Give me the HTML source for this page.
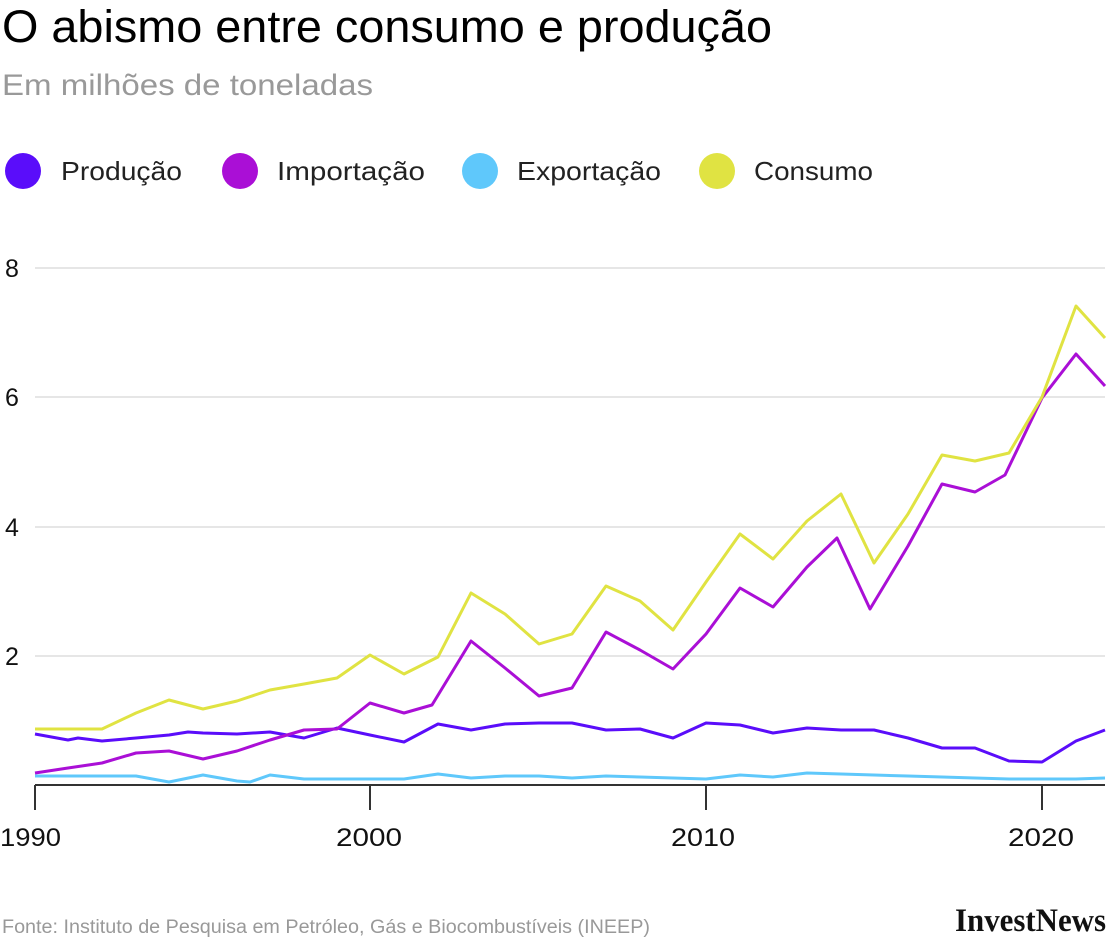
<!DOCTYPE html>
<html><head><meta charset="utf-8"><style>
html,body{margin:0;padding:0;background:#fff;}
body{width:1110px;height:938px;overflow:hidden;position:relative;font-family:"Liberation Sans",sans-serif;}
</style></head><body>
<svg width="1110" height="938" xmlns="http://www.w3.org/2000/svg" style="position:absolute;left:0;top:0">
<text x="2" y="42" font-family="Liberation Sans, sans-serif" font-size="45" fill="#000" textLength="770" lengthAdjust="spacingAndGlyphs">O abismo entre consumo e produção</text>
<text x="2" y="95" font-family="Liberation Sans, sans-serif" font-size="30" fill="#999" textLength="371" lengthAdjust="spacingAndGlyphs">Em milhões de toneladas</text>
<g font-family="Liberation Sans, sans-serif" font-size="26" fill="#222">
<circle cx="23" cy="171" r="18" fill="#5a0dfa"/><text x="61" y="180" textLength="121" lengthAdjust="spacingAndGlyphs">Produção</text>
<circle cx="240" cy="171" r="18" fill="#aa0fd6"/><text x="277" y="180" textLength="148" lengthAdjust="spacingAndGlyphs">Importação</text>
<circle cx="480" cy="171" r="18" fill="#5fc8fb"/><text x="517" y="180" textLength="144" lengthAdjust="spacingAndGlyphs">Exportação</text>
<circle cx="717" cy="171" r="18" fill="#e0e342"/><text x="754" y="180" textLength="119" lengthAdjust="spacingAndGlyphs">Consumo</text>
</g>
<g stroke="#ccc" stroke-width="1">
<line x1="35" x2="1105" y1="268" y2="268"/><line x1="35" x2="1105" y1="397" y2="397"/>
<line x1="35" x2="1105" y1="527" y2="527"/><line x1="35" x2="1105" y1="656" y2="656"/>
</g>
<g font-family="Liberation Sans, sans-serif" font-size="25" fill="#111">
<text x="5" y="277">8</text><text x="5" y="406">6</text><text x="5" y="536">4</text><text x="5" y="665">2</text>
<text x="0" y="846" textLength="61" lengthAdjust="spacingAndGlyphs">1990</text><text x="336" y="846" textLength="66" lengthAdjust="spacingAndGlyphs">2000</text><text x="671" y="846" textLength="64" lengthAdjust="spacingAndGlyphs">2010</text><text x="1008" y="846" textLength="66" lengthAdjust="spacingAndGlyphs">2020</text>
</g>
<line x1="35" x2="1105" y1="785" y2="785" stroke="#333" stroke-width="2"/>
<g stroke="#333" stroke-width="2"><line x1="35" x2="35" y1="785" y2="810"/><line x1="370" x2="370" y1="785" y2="810"/><line x1="706" x2="706" y1="785" y2="810"/><line x1="1042" x2="1042" y1="785" y2="810"/></g>
<g fill="none" stroke-width="3" stroke-linejoin="round">
<polyline stroke="#5fc8fb" points="35,776 68,776 102,776 136,776 169,782 203,775 237,781 250,782 270,775 304,779 337,779 370,779 404,779 438,774 471,778 505,776 539,776 572,778 606,776 640,777 673,778 706,779 740,775 773,777 807,773 841,774 874,775 908,776 942,777 975,778 1009,779 1042,779 1076,779 1105,778"/>
<polyline stroke="#5a0dfa" points="35,734 68,740 78,738 102,741 136,738 169,735 188,732 203,733 237,734 270,732 304,738 337,728 370,735 404,742 438,724 471,730 505,724 539,723 572,723 606,730 640,729 673,738 706,723 740,725 773,733 807,728 841,730 874,730 908,738 942,748 975,748 1009,761 1042,762 1076,741 1105,730"/>
<polyline stroke="#aa0fd6" points="35,773 68,768 102,763 136,753 169,751 203,759 237,751 270,740 304,730 337,729 370,703 404,713 432,705 471,641 505,668 539,696 572,688 606,632 640,650 673,669 706,634 740,588 773,607 807,567 837,538 870,609 908,546 942,484 975,492 1005,475 1042,398 1076,354 1105,386"/>
<polyline stroke="#e0e342" points="35,729 68,729 102,729 136,713 169,700 203,709 237,701 270,690 304,684 337,678 370,655 404,674 438,657 471,593 505,614 539,644 572,634 606,586 640,601 673,630 706,582 740,534 773,559 807,521 841,494 874,563 908,514 942,455 975,461 1009,453 1042,397 1076,306 1105,338"/>
</g>
<text x="2" y="933" font-family="Liberation Sans, sans-serif" font-size="19" fill="#999" textLength="648" lengthAdjust="spacingAndGlyphs">Fonte: Instituto de Pesquisa em Petróleo, Gás e Biocombustíveis (INEEP)</text>
<text x="955" y="931" font-family="Liberation Serif, serif" font-size="33" font-weight="bold" fill="#111" textLength="151" lengthAdjust="spacingAndGlyphs">InvestNews</text>
</svg>
</body></html>
